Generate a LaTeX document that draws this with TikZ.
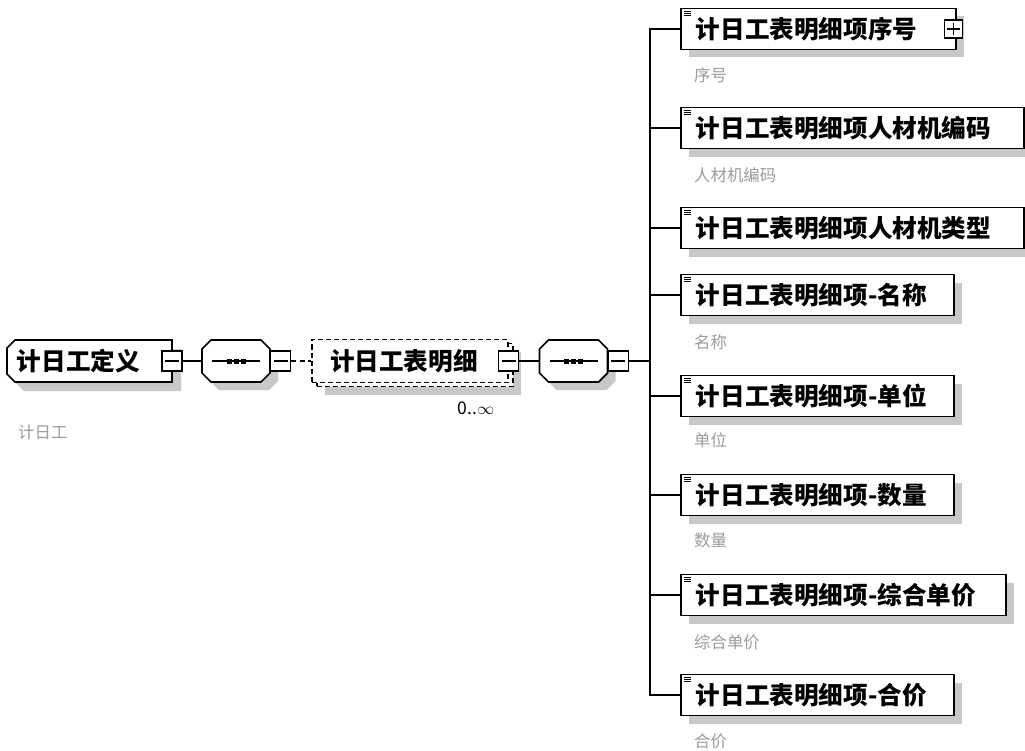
\documentclass[tikz,border=0pt]{standalone}
\usepackage{fontspec}
\setmainfont{Noto Sans CJK SC}
\usetikzlibrary{shadows, positioning, calc}
\definecolor{shadowgray}{RGB}{200,200,200}
\definecolor{notegray}{RGB}{155,155,155}
\tikzset{
  shade box/.style={drop shadow={shadow xshift=#1, shadow yshift=-#1, fill=shadowgray, opacity=1}},
  shade box/.default=2.4mm,
  elemfont/.style={font=\fontsize{21}{24}\selectfont\bfseries},
  % chamfered outlines, drawn under the node's own text
  rootbox/.style={rectangle, elemfont, text width=43.5mm, align=left,
    inner xsep=3mm, minimum height=12.6mm, outer sep=0pt,
    append after command={\pgfextra{
      \draw[line width=1.5pt, fill=white, shade box=2.7mm]
        ([xshift=2.4mm]\tikzlastnode.north west) -- (\tikzlastnode.north east)
        -- (\tikzlastnode.south east) -- ([xshift=2.4mm]\tikzlastnode.south west)
        -- ([yshift=2.4mm]\tikzlastnode.south west) -- ([yshift=-2.4mm]\tikzlastnode.north west) -- cycle;}}},
  seqbox/.style={rectangle, minimum width=20.4mm, minimum height=12.6mm,
    inner sep=0pt, outer sep=0pt,
    append after command={\pgfextra{
      \draw[line width=1.5pt, fill=white, shade box]
        ([xshift=2.7mm]\tikzlastnode.north west) -- ([xshift=-2.7mm]\tikzlastnode.north east)
        -- ([yshift=-2.7mm]\tikzlastnode.north east) -- ([yshift=2.7mm]\tikzlastnode.south east)
        -- ([xshift=-2.7mm]\tikzlastnode.south east) -- ([xshift=2.7mm]\tikzlastnode.south west)
        -- ([yshift=2.7mm]\tikzlastnode.south west) -- ([yshift=-2.7mm]\tikzlastnode.north west) -- cycle;
      \draw[line width=1pt] ([xshift=-7.2mm]\tikzlastnode.center) -- ([xshift=7.2mm]\tikzlastnode.center);
      \fill ([xshift=-2.1mm]\tikzlastnode.center) +(-0.75mm,-0.75mm) rectangle +(0.75mm,0.75mm);
      \fill (\tikzlastnode.center) +(-0.75mm,-0.75mm) rectangle +(0.75mm,0.75mm);
      \fill ([xshift=2.1mm]\tikzlastnode.center) +(-0.75mm,-0.75mm) rectangle +(0.75mm,0.75mm);}}},
  elembox/.style={rectangle, draw, dash pattern=on 1.5mm off 0.9mm, fill=white, line width=1.2pt,
    elemfont, text width=48mm, align=left, inner xsep=5.4mm, minimum height=12.9mm,
    drop shadow={shadow xshift=3.9mm, shadow yshift=-3.6mm, fill=shadowgray, opacity=1},
    general shadow={shadow xshift=1.5mm, shadow yshift=-1.2mm, draw=black, line width=1.2pt,
      dash pattern=on 1.5mm off 0.9mm, fill=white}},
  item/.style={rectangle, draw, fill=white, line width=1.5pt, elemfont, anchor=west,
    text width=#1, align=left, inner xsep=4.5mm, minimum height=12.3mm, shade box,
    path picture={
      \foreach \k in {0.9,1.5,2.1}
        \draw[line width=0.5pt] ([shift={(0.9mm,-\k mm)}]path picture bounding box.north west) -- ++(2.1mm,0);
    }},
  minusbox/.style={rectangle, draw, fill=white, line width=1.2pt, minimum size=6mm, inner sep=0pt,
    path picture={\draw[line width=1pt] ([xshift=-2.1mm]path picture bounding box.center) -- ([xshift=2.1mm]path picture bounding box.center);}},
  plusbox/.style={rectangle, draw, fill=white, line width=1.2pt, minimum size=5.4mm, inner sep=0pt,
    path picture={
      \draw[line width=1pt] ([xshift=-1.9mm]path picture bounding box.center) -- ([xshift=1.9mm]path picture bounding box.center);
      \draw[line width=1pt] ([yshift=-1.9mm]path picture bounding box.center) -- ([yshift=1.9mm]path picture bounding box.center);}},
  note/.style={anchor=west, text=notegray, font=\fontsize{14}{16}\selectfont, inner sep=0pt},
  link/.style={line width=1.3pt}
}

\begin{document}
\begin{tikzpicture}[x=0.3mm, y=-0.3mm]
  \useasboundingbox (0,0) rectangle (1025,751);

  % Root element
  \node[rootbox] (root) at (89.5,361) {计日工定义};
  \node[minusbox] (rootm) at (root.east) {};
  \node[note] (rootnote) at (18,432) {计日工};

  % First sequence
  \node[seqbox] (seq1) at (236,361) {};
  \node[minusbox, anchor=west] (seq1m) at (seq1.east) {};
  \draw[link] (rootm.east) -- (seq1.west);

  % Repeated detail element
  \node[elembox] (elem) at (410,361) {计日工表明细};
  \node[minusbox] (elemm) at (elem.east) {};
  \node[font=\fontsize{15}{17}\selectfont, inner sep=0pt] (elemocc) at (476,408) {0..$\infty$};
  \draw[link, dash pattern=on 1.5mm off 1mm] (seq1m.east) -- (elem.west);

  % Second sequence
  \node[seqbox] (seq2) at (573.5,361) {};
  \node[minusbox, anchor=west] (seq2m) at (seq2.east) {};
  \draw[link] (elemm.east) -- (seq2.west);
  \coordinate (bus) at (650,361);
  \draw[link] (seq2m.east) -- (bus);

  % Children
  \node[item=73.5mm] (c1) at (680,29) {计日工表明细项序号};
  \node[plusbox] (c1p) at ([xshift=-1mm]c1.east) {};
  \node[item=93.9mm] (c2) at (680,128) {计日工表明细项人材机编码};
  \node[item=93.9mm] (c3) at (680,228) {计日工表明细项人材机类型};
  \node[item=72.9mm] (c4) at (680,295) {计日工表明细项-名称};
  \node[item=72.9mm] (c5) at (680,396) {计日工表明细项-单位};
  \node[item=72.9mm] (c6) at (680,495) {计日工表明细项-数量};
  \node[item=88.5mm] (c7) at (680,595) {计日工表明细项-综合单价};
  \node[item=72.9mm] (c8) at (680,695) {计日工表明细项-合价};

  % Notes under children
  \node[note] (n1) at (694,75) {序号};
  \node[note] (n2) at (694,175) {人材机编码};
  \node[note] (n4) at (694,342) {名称};
  \node[note] (n5) at (694,440) {单位};
  \node[note] (n6) at (694,540) {数量};
  \node[note] (n7) at (694,642) {综合单价};
  \node[note] (n8) at (694,741) {合价};

  % Connectors
  \draw[link] (bus) |- (c1.west);
  \draw[link] (bus) |- (c2.west);
  \draw[link] (bus) |- (c3.west);
  \draw[link] (bus) |- (c4.west);
  \draw[link] (bus) |- (c5.west);
  \draw[link] (bus) |- (c6.west);
  \draw[link] (bus) |- (c7.west);
  \draw[link] (bus) |- (c8.west);
\end{tikzpicture}
\end{document}
